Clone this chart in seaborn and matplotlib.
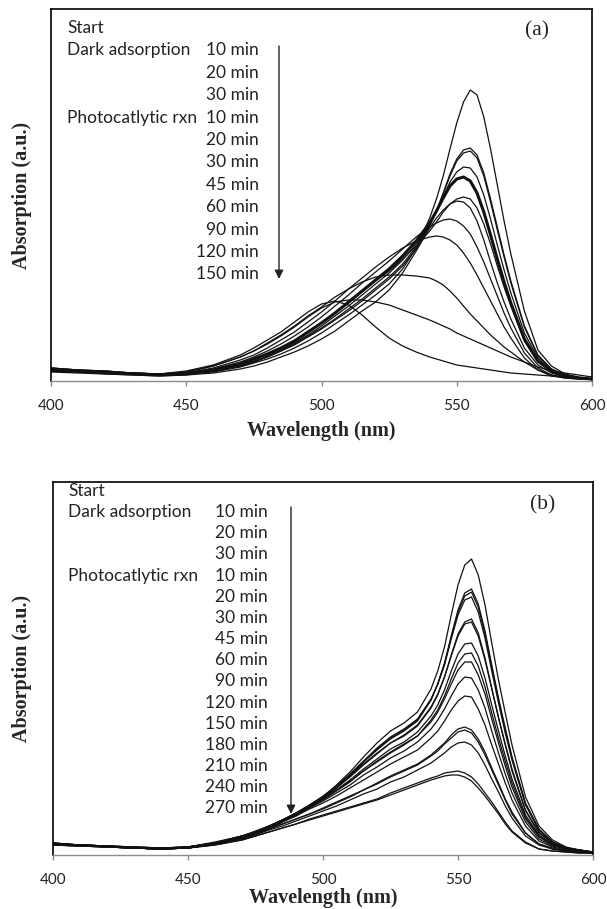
import numpy as np
import matplotlib
matplotlib.use('Agg')
import matplotlib.pyplot as plt
import seaborn as sns

# wavelength grid (nm) the spectra were read at
wavelength = [400, 410, 420, 430, 440, 450, 460, 470,
              475, 480, 485, 490, 495, 500, 505, 510, 515, 520, 525, 530, 535, 540,
              542.5, 545, 547.5, 550, 552.5, 555, 557.5, 560, 562.5, 565, 567.5, 570,
              575, 580, 585, 590, 595, 600]
x_ticks = [400, 450, 500, 550, 600]

# panel (a) spectra, absorption x100 (a.u.)
a_start = [10, 9, 8, 7, 6, 7, 9, 14, 18, 22, 27, 33, 40, 48, 57, 66, 76, 86, 97, 112, 133, 163,
           182, 205, 232, 258, 279, 291, 286, 264, 232, 196, 160, 127, 70, 31, 15, 7, 4, 2]
a_dark10 = [10, 9, 8, 7, 6, 7, 10, 15, 19, 24, 30, 36, 44, 52, 61, 70, 80, 91, 102, 115, 132, 155,
            170, 188, 207, 222, 231, 233, 226, 208, 182, 154, 126, 100, 55, 26, 12, 6, 3, 2]
a_dark20 = [10, 9, 8, 7, 6, 7, 10, 15, 19, 24, 30, 37, 45, 53, 62, 72, 82, 93, 104, 117, 134, 156,
            170, 187, 205, 220, 228, 230, 223, 205, 179, 151, 124, 98, 54, 25, 12, 6, 3, 2]
a_dark30 = [10, 9, 8, 7, 6, 7, 10, 16, 20, 25, 31, 38, 46, 55, 65, 75, 86, 97, 108, 121, 137, 156,
            169, 184, 199, 209, 214, 213, 204, 186, 162, 136, 111, 88, 48, 23, 11, 5, 3, 2]
a_rxn10 = [11, 10, 8, 7, 6, 7, 11, 17, 22, 27, 33, 40, 49, 58, 68, 79, 90, 101, 112, 125, 140, 158,
           170, 183, 195, 202, 204, 200, 188, 169, 146, 122, 99, 78, 42, 20, 10, 5, 3, 2]
a_rxn20 = [11, 10, 8, 7, 6, 7, 11, 17, 22, 27, 33, 40, 49, 58, 68, 78, 89, 100, 110, 122, 135, 150,
           159, 169, 177, 182, 184, 182, 173, 157, 137, 115, 94, 75, 40, 19, 9, 5, 3, 2]
a_rxn30 = [9, 8, 7, 6, 5, 6, 8, 12, 15, 19, 24, 29, 35, 42, 50, 60, 70, 79, 91, 108, 130, 153,
           163, 171, 177, 180, 179, 173, 160, 141, 119, 98, 79, 62, 33, 16, 8, 4, 3, 2]
a_rxn45 = [12, 10, 9, 8, 7, 8, 12, 19, 24, 30, 37, 45, 54, 64, 75, 86, 98, 109, 120, 132, 144, 154,
           158, 161, 162, 160, 155, 147, 134, 119, 102, 85, 68, 53, 28, 13, 6, 4, 3, 2]
a_rxn60 = [12, 10, 9, 8, 7, 8, 13, 21, 26, 33, 41, 49, 59, 69, 80, 92, 103, 114, 124, 133, 140, 144,
           145, 144, 141, 136, 128, 118, 106, 93, 80, 67, 54, 43, 23, 11, 5, 3, 2, 2]
a_rxn90 = [13, 11, 10, 8, 7, 9, 15, 24, 30, 38, 46, 55, 65, 74, 84, 92, 99, 104, 106, 106, 105, 103,
           100, 96, 90, 83, 75, 67, 60, 53, 46, 40, 34, 29, 19, 11, 6, 3, 2, 2]
a_rxn120 = [13, 11, 10, 8, 7, 9, 15, 24, 30, 37, 45, 54, 64, 73, 79, 81, 81, 79, 76, 71, 66, 61,
            58, 55, 52, 48, 45, 42, 39, 36, 33, 30, 27, 24, 19, 14, 10, 8, 6, 4]
a_rxn150 = [13, 11, 10, 8, 7, 10, 16, 26, 33, 41, 49, 59, 69, 77, 80, 76, 66, 54, 43, 35, 29, 24,
            22, 20, 18, 16, 15, 14, 13, 12, 11, 10, 9, 8, 7, 6, 5, 4, 3, 2]

# panel (b) spectra, absorption x100 (a.u.)
b_start = [10, 9, 8, 7, 6, 7, 11, 17, 21, 26, 33, 40, 49, 58, 70, 83, 98, 112, 124, 132, 143, 166,
           184, 208, 240, 270, 290, 296, 280, 250, 212, 175, 142, 110, 58, 29, 15, 8, 5, 3]
b_dark10 = [11, 10, 8, 7, 6, 7, 11, 17, 21, 26, 33, 39, 48, 56, 67, 79, 93, 105, 116, 124, 134, 155,
            171, 192, 219, 245, 262, 266, 251, 224, 190, 157, 127, 98, 52, 26, 13, 7, 5, 3]
b_dark20 = [11, 10, 8, 7, 6, 7, 11, 18, 22, 27, 34, 40, 49, 57, 68, 80, 93, 106, 117, 125, 135, 155,
            171, 191, 218, 243, 259, 263, 248, 221, 188, 155, 125, 97, 51, 25, 13, 7, 5, 3]
b_dark30 = [11, 10, 9, 7, 6, 8, 12, 18, 23, 28, 35, 42, 50, 59, 69, 81, 94, 107, 118, 126, 136, 156,
            171, 190, 216, 240, 255, 258, 243, 217, 184, 152, 122, 95, 50, 25, 13, 7, 5, 3]
b_rxn10 = [11, 10, 9, 7, 6, 8, 12, 18, 23, 28, 35, 41, 49, 57, 67, 78, 90, 101, 112, 119, 129, 147,
           160, 178, 200, 221, 233, 236, 222, 197, 167, 138, 111, 86, 45, 23, 12, 7, 4, 3]
b_rxn20 = [12, 10, 9, 8, 7, 8, 12, 19, 23, 29, 35, 42, 50, 58, 68, 79, 91, 102, 112, 120, 130, 148,
           161, 178, 199, 219, 231, 233, 219, 195, 166, 137, 110, 84, 44, 22, 12, 7, 4, 3]
b_rxn30 = [11, 10, 9, 7, 6, 8, 12, 19, 23, 28, 35, 41, 49, 56, 65, 75, 86, 96, 106, 113, 123, 139,
           150, 165, 184, 201, 211, 212, 199, 177, 150, 124, 99, 76, 40, 20, 11, 6, 4, 3]
b_rxn45 = [12, 10, 9, 8, 7, 8, 12, 18, 23, 28, 35, 41, 48, 55, 64, 73, 84, 94, 103, 111, 119, 135,
           145, 159, 176, 192, 201, 202, 189, 168, 142, 117, 94, 72, 38, 19, 10, 6, 4, 3]
b_rxn60 = [12, 10, 9, 8, 7, 8, 13, 19, 24, 29, 35, 42, 49, 56, 65, 74, 84, 93, 102, 110, 119, 133,
           143, 156, 171, 185, 193, 193, 180, 161, 136, 112, 89, 68, 36, 18, 10, 6, 4, 3]
b_rxn90 = [12, 10, 9, 8, 7, 8, 12, 19, 23, 29, 35, 41, 47, 54, 62, 70, 80, 88, 97, 104, 113, 126,
           135, 146, 159, 171, 178, 177, 165, 147, 124, 102, 81, 62, 33, 16, 9, 6, 4, 3]
b_rxn120 = [11, 10, 9, 7, 7, 8, 12, 18, 23, 28, 34, 39, 46, 52, 59, 67, 75, 83, 91, 98, 105, 117,
            124, 134, 145, 154, 159, 158, 146, 130, 110, 91, 72, 55, 29, 14, 8, 5, 3, 3]
b_rxn150 = [11, 10, 8, 7, 6, 7, 11, 17, 21, 26, 31, 36, 41, 47, 53, 59, 65, 72, 79, 85, 91, 100,
            106, 112, 120, 126, 128, 125, 116, 103, 87, 72, 56, 43, 22, 11, 7, 4, 3, 2]
b_rxn180 = [11, 10, 8, 7, 6, 7, 11, 17, 21, 26, 31, 36, 41, 46, 52, 58, 65, 71, 78, 84, 90, 99,
            104, 111, 117, 123, 125, 122, 113, 100, 85, 70, 55, 41, 22, 11, 6, 4, 3, 2]
b_rxn210 = [10, 9, 8, 7, 6, 7, 11, 16, 20, 25, 29, 34, 39, 44, 49, 55, 61, 66, 73, 78, 85, 92,
            97, 102, 108, 112, 113, 110, 102, 90, 76, 63, 49, 37, 19, 10, 6, 4, 3, 2]
b_rxn240 = [10, 9, 8, 7, 6, 7, 10, 15, 19, 23, 27, 31, 36, 40, 44, 48, 52, 56, 62, 67, 72, 77,
            79, 82, 83, 84, 82, 78, 71, 62, 53, 43, 33, 24, 13, 6, 4, 3, 2, 2]
b_rxn270 = [10, 9, 8, 7, 6, 7, 10, 15, 19, 23, 27, 31, 35, 39, 43, 47, 51, 55, 60, 65, 70, 75,
            77, 79, 80, 80, 78, 74, 67, 59, 50, 41, 31, 23, 12, 6, 4, 3, 2, 2]

a_curves = [a_start, a_dark10, a_dark20, a_dark30, a_rxn10, a_rxn20, a_rxn30,
            a_rxn45, a_rxn60, a_rxn90, a_rxn120, a_rxn150]
b_curves = [b_start, b_dark10, b_dark20, b_dark30, b_rxn10, b_rxn20, b_rxn30, b_rxn45,
            b_rxn60, b_rxn90, b_rxn120, b_rxn150, b_rxn180, b_rxn210, b_rxn240, b_rxn270]

# legend text
stage_labels = ['Start', 'Dark adsorption', 'Photocatlytic rxn']
a_times = ['', '10 min', '20 min', '30 min', '10 min', '20 min', '30 min', '45 min',
           '60 min', '90 min', '120 min', '150 min']
b_times = a_times + ['180 min', '210 min', '240 min', '270 min']

sns.set_style('white')
plt.rcParams['font.family'] = ['Lato', 'DejaVu Sans']

W, H = 607, 909
fig = plt.figure(figsize=(W / 100, H / 100), dpi=100)


def fx(px):
    return px / W


def fy(py):
    return 1 - py / H


def make_axes(left, top, right, bottom):
    return fig.add_axes([fx(left), fy(bottom), (right - left) / W, (bottom - top) / H])


def draw_panel(ax, curves, thick, ymax, times, letter, legend_box, arrow):
    for i, vals in enumerate(curves):
        sns.lineplot(x=wavelength, y=np.array(vals) / 100, ax=ax, color='#111111',
                     lw=2.2 if i == thick else 0.9, sort=False)
    ax.set_xlim(400, 600)
    ax.set_ylim(0, ymax)
    ax.set_xticks(x_ticks)
    ax.set_yticks([])
    for s in ['left', 'top', 'right']:
        ax.spines[s].set_visible(True)
        ax.spines[s].set_color('black')
        ax.spines[s].set_linewidth(1.2)
    ax.spines['bottom'].set_color('#8c8c8c')
    ax.spines['bottom'].set_linewidth(1.0)
    ax.tick_params(axis='x', bottom=True, direction='out', length=3.6, width=1,
                   color='#8c8c8c', labelsize=11, labelcolor='#222222', pad=9)
    ax.set_xlabel('Wavelength (nm)', family='Liberation Serif', weight='bold',
                  fontsize=14.5, va='center')
    ax.set_ylabel('Absorption (a.u.)', family='Liberation Serif', weight='bold',
                  fontsize=14.5, va='center', ha='center')

    # text block with sampling times
    x_left, x_right, y0, dy = legend_box
    fig.text(fx(x_left), fy(y0), stage_labels[0], fontsize=12.5, color='#222222', va='center')
    fig.text(fx(x_left), fy(y0 + dy), stage_labels[1], fontsize=12.5, color='#222222', va='center')
    fig.text(fx(x_left), fy(y0 + 4 * dy), stage_labels[2], fontsize=12.5, color='#222222', va='center')
    for i, t in enumerate(times):
        if t:
            fig.text(fx(x_right), fy(y0 + i * dy), t, fontsize=12.5, color='#222222',
                     va='center', ha='right')
    ax_x, ay0, ay1 = arrow
    ax.annotate('', xy=(fx(ax_x), fy(ay1)), xytext=(fx(ax_x), fy(ay0)),
                xycoords='figure fraction', textcoords='figure fraction',
                arrowprops=dict(arrowstyle='-|>', color='#222222', lw=1.0,
                                mutation_scale=13, shrinkA=0, shrinkB=0))
    lx, ly = letter[1]
    fig.text(fx(lx), fy(ly), letter[0], family='Liberation Serif', fontsize=15.5,
             color='#222222', ha='center', va='center')


ax_a = make_axes(51, 9, 592, 381)
draw_panel(ax_a, a_curves, 4, 3.72, a_times, ('(a)', (537, 31)),
           (67, 259, 28, 22.4), (279, 46, 279))
ax_a.xaxis.set_label_coords(0.5, (381 - 431) / 372)
ax_a.yaxis.set_label_coords((22 - 51) / 541, 0.5)

ax_b = make_axes(53, 482, 593, 855)
draw_panel(ax_b, b_curves, -1, 3.73, b_times, ('(b)', (543, 505)),
           (68, 268, 491, 21.15), (291, 507, 814))
ax_b.xaxis.set_label_coords(0.5, (855 - 898) / 373)
ax_b.yaxis.set_label_coords((22 - 53) / 540, 0.5)

fig.savefig('out.png', dpi=100)
